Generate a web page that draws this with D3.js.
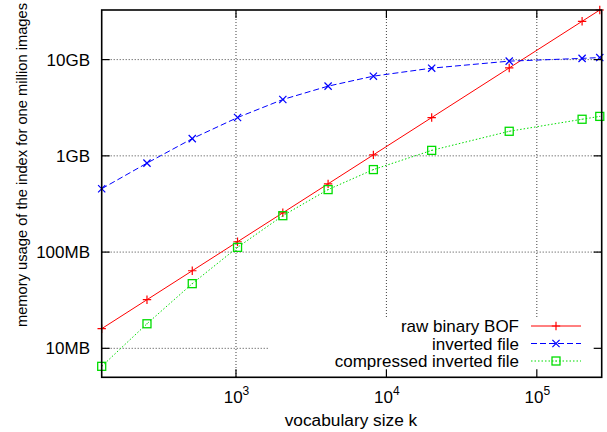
<!DOCTYPE html>
<html>
<head>
<meta charset="utf-8">
<script src="https://cdn.jsdelivr.net/npm/d3@7/dist/d3.min.js"></script>
<style>
  html, body { margin: 0; padding: 0; background: #fff; }
  svg { display: block; font-family: "Liberation Sans", Arial, Helvetica, sans-serif; }
</style>
</head>
<body>
<svg id="chart" width="607" height="432"></svg>
<script>
// ---- data (memory in MB) ----
const kValues      = [128, 256, 512, 1024, 2048, 4096, 8192, 20000, 65536, 200000, 262144];
const rawBOF       = [16, 32, 64, 128, 256, 512, 1024, 2500, 8192, 25000, 32768];
const invertedFile = [455, 840, 1510, 2500, 3850, 5300, 6730, 8150, 9640, 10300, 10500];
const compressed   = [6.5, 18, 47, 112, 239, 446, 720, 1140, 1800, 2400, 2570];
const seriesNames  = ["raw binary BOF", "inverted file", "compressed inverted file"];
const xTickValues  = [1e3, 1e4, 1e5];
const xTickExps    = ["3", "4", "5"];
const yTickValues  = [10, 100, 1000, 10000];
const yTickLabels  = ["10MB", "100MB", "1GB", "10GB"];

const svg = d3.select("#chart");
const L = 101.7, R = 601.7, T = 10, B = 377.3;
const x = d3.scaleLog().domain([128, 270000]).range([L, R]);
const y = d3.scaleLog().domain([5, 32768]).range([B, T]);

// grid
const grid = svg.append("g").attr("stroke", "#000").attr("stroke-opacity", 0.75)
  .attr("stroke-width", 1).attr("stroke-dasharray", "1,2");
xTickValues.forEach(v => grid.append("line")
  .attr("x1", x(v)).attr("x2", x(v)).attr("y1", T).attr("y2", B));
yTickValues.forEach(v => grid.append("line")
  .attr("x1", L).attr("x2", R).attr("y1", y(v)).attr("y2", y(v)));

// key background (blanks grid)
svg.append("rect").attr("x", 268).attr("y", 317).attr("width", R - 268).attr("height", B - 317)
  .attr("fill", "#fff");

// series
const series = [
  { name: seriesNames[0], vals: rawBOF, color: "#ff0000", dash: null, marker: "plus" },
  { name: seriesNames[1], vals: invertedFile, color: "#0000ff", dash: "6,3", marker: "cross" },
  { name: seriesNames[2], vals: compressed, color: "#00dd00", dash: "1.5,2", marker: "square" }
];

function drawMarker(g, type, cx, cy, color) {
  if (type === "plus") {
    const s = 4.2;
    g.append("path").attr("d", `M${cx - s},${cy}H${cx + s}M${cx},${cy - s}V${cy + s}`)
      .attr("stroke", color).attr("stroke-width", 1.2).attr("fill", "none");
  } else if (type === "cross") {
    const s = 3.6;
    g.append("path").attr("d", `M${cx - s},${cy - s}L${cx + s},${cy + s}M${cx - s},${cy + s}L${cx + s},${cy - s}`)
      .attr("stroke", color).attr("stroke-width", 1.2).attr("fill", "none");
  } else {
    const s = 4;
    g.append("rect").attr("x", cx - s).attr("y", cy - s).attr("width", 2 * s).attr("height", 2 * s)
      .attr("stroke", color).attr("stroke-width", 1.3).attr("fill", "none");
    g.append("rect").attr("x", cx - 0.5).attr("y", cy - 0.5).attr("width", 1).attr("height", 1)
      .attr("fill", color);
  }
}

const line = d3.line().x(d => x(d[0])).y(d => y(d[1]));
series.forEach(s => {
  const pts = kValues.map((k, i) => [k, s.vals[i]]);
  const g = svg.append("g");
  g.append("path").attr("d", line(pts)).attr("fill", "none")
    .attr("stroke", s.color).attr("stroke-width", 1)
    .attr("stroke-dasharray", s.dash);
  pts.forEach(p => drawMarker(g, s.marker, x(p[0]), y(p[1]), s.color));
});

// border
svg.append("rect").attr("x", L).attr("y", T).attr("width", R - L).attr("height", B - T)
  .attr("fill", "none").attr("stroke", "#000").attr("stroke-width", 1.6);

// ticks
const tk = svg.append("g").attr("stroke", "#000").attr("stroke-width", 1.2);
const TL = 8;
xTickValues.forEach(v => {
  tk.append("line").attr("x1", x(v)).attr("x2", x(v)).attr("y1", B).attr("y2", B - TL);
  tk.append("line").attr("x1", x(v)).attr("x2", x(v)).attr("y1", T).attr("y2", T + TL);
});
yTickValues.forEach(v => {
  tk.append("line").attr("x1", L).attr("x2", L + TL).attr("y1", y(v)).attr("y2", y(v));
  tk.append("line").attr("x1", R).attr("x2", R - TL).attr("y1", y(v)).attr("y2", y(v));
});

// tick labels
yTickValues.forEach((v, i) => {
  svg.append("text").attr("x", 90).attr("y", y(v) + 6).attr("text-anchor", "end")
    .attr("font-size", 17).attr("fill", "#000").text(yTickLabels[i]);
});
xTickValues.forEach((v, i) => {
  const t = svg.append("text").attr("x", x(v) + 0.5).attr("y", 403).attr("text-anchor", "middle")
    .attr("font-size", 17).attr("fill", "#000");
  t.append("tspan").text("10");
  t.append("tspan").attr("font-size", 12).attr("dy", -8).text(xTickExps[i]);
});

// axis labels
svg.append("text").attr("x", 351).attr("y", 426).attr("text-anchor", "middle")
  .attr("font-size", 17.3).attr("fill", "#000").text("vocabulary size k");
svg.append("text").attr("transform", "translate(27,165) rotate(-90)")
  .attr("text-anchor", "middle").attr("font-size", 14.7).attr("fill", "#000")
  .text("memory usage of the index for one million images");

// legend
const rowsY = [326, 343.5, 361];
series.forEach((s, i) => {
  const yy = rowsY[i];
  svg.append("text").attr("x", 519).attr("y", yy + 6).attr("text-anchor", "end")
    .attr("font-size", 17).attr("fill", "#000").text(s.name);
  const g = svg.append("g");
  g.append("line").attr("x1", 531).attr("x2", 581).attr("y1", yy).attr("y2", yy)
    .attr("stroke", s.color).attr("stroke-width", 1).attr("stroke-dasharray", s.dash);
  drawMarker(g, s.marker, 556, yy, s.color);
});
</script>
</body>
</html>
